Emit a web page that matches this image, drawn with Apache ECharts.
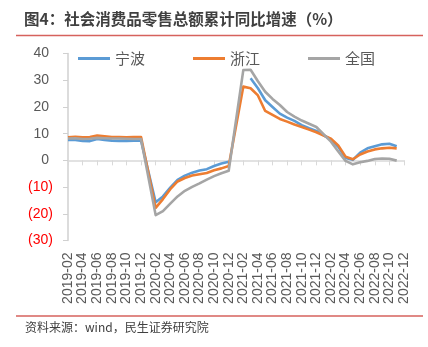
<!DOCTYPE html>
<html>
<head>
<meta charset="utf-8">
<script src="https://cdn.jsdelivr.net/npm/echarts@6/dist/echarts.min.js"></script>
<style>
  html, body { margin: 0; padding: 0; background: #ffffff; }
  #chart { width: 428px; height: 347px; }
</style>
</head>
<body>
<div id="chart"></div>
<script>
// Axis months (every calendar month, labelled every second one)
const months = [
  '2019-02','2019-03','2019-04','2019-05','2019-06','2019-07','2019-08','2019-09','2019-10','2019-11','2019-12',
  '2020-01','2020-02','2020-03','2020-04','2020-05','2020-06','2020-07','2020-08','2020-09','2020-10','2020-11','2020-12',
  '2021-01','2021-02','2021-03','2021-04','2021-05','2021-06','2021-07','2021-08','2021-09','2021-10','2021-11','2021-12',
  '2022-01','2022-02','2022-03','2022-04','2022-05','2022-06','2022-07','2022-08','2022-09','2022-10','2022-11','2022-12'
];

// Reporting periods (January is reported together with February)
const periods = [
  '2019-02','2019-03','2019-04','2019-05','2019-06','2019-07','2019-08','2019-09','2019-10','2019-11','2019-12',
  '2020-02','2020-03','2020-04','2020-05','2020-06','2020-07','2020-08','2020-09','2020-10','2020-11','2020-12',
  '2021-02','2021-03','2021-04','2021-05','2021-06','2021-07','2021-08','2021-09','2021-10','2021-11','2021-12',
  '2022-02','2022-03','2022-04','2022-05','2022-06','2022-07','2022-08','2022-09','2022-10','2022-11'
];

// Cumulative YoY growth of retail sales of consumer goods (%)
const ningbo = [
  7.6, 7.6, 7.3, 7.2, 8.0, 7.6, 7.4, 7.3, 7.3, 7.4, 7.4,
  -15.7, -13.5, -10.2, -7.3, -5.7, -4.6, -3.8, -3.3, -2.1, -1.2, -0.5,
  null, 30.7, 27.0, 22.5, 20.0, 17.5, 16.0, 14.8, 13.2, 12.0, 11.0,
  7.8, 5.1, 0.9, 0.2, 2.9, 4.5, 5.3, 6.0, 6.2, 5.3
];
const zhejiang = [
  8.6, 8.8, 8.6, 8.7, 9.3, 9.0, 8.7, 8.7, 8.6, 8.7, 8.7,
  -17.8, -14.5, -10.8, -7.9, -6.6, -5.7, -5.2, -4.7, -3.7, -3.0, -2.1,
  27.6, 27.0, 24.3, 18.5, 17.0, 15.5, 14.5, 13.4, 12.5, 11.5, 10.5,
  8.1, 5.6, 1.4, 0.4, 2.2, 3.3, 4.1, 4.5, 4.7, 4.5
];
const national = [
  8.2, 8.3, 8.0, 8.1, 8.4, 8.3, 8.2, 8.2, 8.1, 8.0, 8.0,
  -20.5, -19.0, -16.2, -13.5, -11.4, -9.9, -8.6, -7.2, -5.9, -4.8, -3.9,
  33.8, 33.9, 29.6, 25.7, 23.0, 20.7, 18.1, 16.4, 14.9, 13.7, 12.5,
  7.0, 3.3, -0.2, -1.5, -0.7, -0.2, 0.5, 0.7, 0.6, -0.1
];

const seriesNames = ['宁波', '浙江', '全国'];
const seriesColors = ['#5B9BD5', '#ED7D31', '#A5A5A5'];
const seriesValues = [ningbo, zhejiang, national];

const FONT = '"Noto Sans CJK SC", "Liberation Sans", sans-serif';
const NUM_FONT = '"Liberation Sans", Arial, sans-serif';

function toPairs(values) {
  return periods.map((p, i) => [p, values[i] == null ? '-' : values[i]]);
}

const chart = echarts.init(document.getElementById('chart'), null, { renderer: 'canvas' });

chart.setOption({
  animation: false,
  backgroundColor: '#ffffff',
  grid: { left: 68, right: 24, top: 53.5, bottom: 106.5, containLabel: false },
  legend: {
    left: 73,
    top: 46,
    itemWidth: 32,
    itemHeight: 3,
    itemGap: 48,
    icon: 'rect',
    textStyle: { fontFamily: FONT, fontSize: 15, color: '#595959' },
    data: seriesNames
  },
  xAxis: [
    {
      type: 'category',
      data: months,
      boundaryGap: false,
      position: 'bottom',
      axisLine: { show: false, onZero: false },
      axisTick: { show: false },
      splitLine: { show: false },
      axisLabel: {
        interval: 1,
        rotate: 90,
        margin: 12,
        fontFamily: NUM_FONT,
        fontSize: 14,
        color: '#595959'
      }
    },
    {
      type: 'category',
      data: months,
      boundaryGap: false,
      position: 'top',
      axisLine: { show: true, onZero: true, lineStyle: { color: '#d9d9d9', width: 1.5 } },
      axisTick: { show: true, inside: true, interval: 1, length: 5, lineStyle: { color: '#d9d9d9', width: 1 } },
      axisLabel: { show: false },
      splitLine: { show: false }
    }
  ],
  yAxis: {
    type: 'value',
    min: -30,
    max: 40,
    interval: 10,
    axisLine: { show: true, lineStyle: { color: '#d0d0d0', width: 1.5 } },
    axisTick: { show: true, length: 5, lineStyle: { color: '#d0d0d0' } },
    splitLine: { show: false },
    axisLabel: {
      margin: 15,
      fontFamily: NUM_FONT,
      fontSize: 14,
      formatter: v => v < 0 ? '{neg|(' + (-v) + ')}' : '{pos|' + v + '}',
      rich: {
        pos: { color: '#595959', fontFamily: NUM_FONT, fontSize: 14, padding: [0, 4, 0, 0] },
        neg: { color: '#ff0000', fontFamily: NUM_FONT, fontSize: 14 }
      }
    }
  },
  series: seriesNames.map((name, k) => ({
    name: name,
    type: 'line',
    xAxisIndex: 0,
    data: toPairs(seriesValues[k]),
    showSymbol: false,
    symbol: 'none',
    connectNulls: false,
    lineStyle: { color: seriesColors[k], width: 2.6, join: 'round' },
    itemStyle: { color: seriesColors[k] }
  })),
  graphic: [
    {
      type: 'text',
      left: 24,
      top: 11,
      style: {
        text: '图4：社会消费品零售总额累计同比增速（%）',
        fontFamily: FONT,
        fontSize: 15.5,
        fontWeight: 'bold',
        fill: '#404040'
      }
    },
    {
      type: 'line',
      shape: { x1: 16, y1: 35.5, x2: 423, y2: 35.5 },
      style: { stroke: '#d6625d', lineWidth: 1.5 }
    },
    {
      type: 'line',
      shape: { x1: 16, y1: 316, x2: 423, y2: 316 },
      style: { stroke: '#d6625d', lineWidth: 1.5 }
    },
    {
      type: 'text',
      left: 25,
      top: 321,
      style: {
        text: '资料来源：wind，民生证券研究院',
        fontFamily: FONT,
        fontSize: 12,
        fill: '#404040'
      }
    }
  ]
});
</script>
</body>
</html>
